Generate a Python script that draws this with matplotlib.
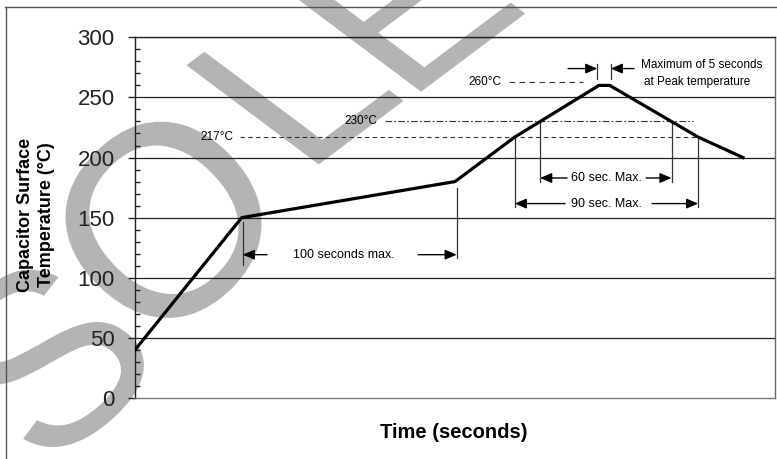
import matplotlib
matplotlib.use("Agg")
import matplotlib.pyplot as plt
from matplotlib.lines import Line2D
from matplotlib.textpath import TextPath
from matplotlib.font_manager import FontProperties
from matplotlib.patches import PathPatch
from matplotlib.transforms import Affine2D

# ---------------- data ----------------
time_s = [0, 50, 150, 178, 217.5, 222.5, 264, 285]
temp_c = [40, 150, 180, 217, 260, 260, 217, 200]
y_ticks = [0, 50, 100, 150, 200, 250, 300]
ref_levels = [217, 230, 260]
ref_labels = ["217°C", "230°C", "260°C"]
preheat_span = [50.5, 150.8]      # "100 seconds max."
above230_span = [189.9, 251.5]    # "60 sec. Max."
above217_span = [178, 264]        # "90 sec. Max."
peak_span = [216.7, 223]          # "Maximum of 5 seconds"

W, H = 777, 459
FONT = "Liberation Sans"
plt.rcParams["font.family"] = [FONT, "DejaVu Sans"]

fig = plt.figure(figsize=(W / 100, H / 100), dpi=100)
fig.patch.set_facecolor("white")

# ---------------- watermark (behind the chart) ----------------
fp = FontProperties(family=FONT)
wm = [("S", 44, 358, 0.9), ("O", 164, 220, 1.0), ("L", 295, 83, 0.75), ("E", 407, 3, 0.75)]
for ch, cx, cy, k in wm:
    tp = TextPath((0, 0), ch, size=272, prop=fp)
    ext = tp.get_extents()
    gx, gy = (ext.x0 + ext.x1) / 2, (ext.y0 + ext.y1) / 2
    tr = Affine2D().translate(-gx, -gy).rotate_deg(45).scale(1, k).translate(cx, H - cy)
    fig.add_artist(PathPatch(tp, transform=tr, facecolor="#b4b4b4", edgecolor="none", zorder=-5))

# outer frame (left and top edges)
fig.add_artist(Line2D([6 / W, 6 / W], [0, 1 - 7 / H], color="#555555", lw=1.0, zorder=-1))
fig.add_artist(Line2D([5 / W, 1], [1 - 7 / H, 1 - 7 / H], color="#555555", lw=1.0, zorder=-1))

# ---------------- axes ----------------
ax = fig.add_axes([135 / W, 1 - 398 / H, 640 / W, (398 - 37.3) / H])
ax.set_facecolor("none")
ax.set_xlim(0, 300)
ax.set_ylim(0, 300)

for y in y_ticks[1:]:
    ax.axhline(y, color="#222222", lw=0.9, zorder=1)

ax.set_xticks([])
ax.set_yticks(y_ticks)
ax.set_yticks(range(0, 301, 10), minor=True)
ax.tick_params(axis="y", which="major", direction="out", length=5.2, width=1,
               pad=9.4, labelsize=16, labelcolor="#222222", color="#222222")
ax.tick_params(axis="y", which="minor", direction="in", length=3.6, width=1, color="#222222")
for sp in ["left", "top"]:
    ax.spines[sp].set_color("#222222")
ax.spines["right"].set_color("#666666")
ax.spines["bottom"].set_color("#777777")
for sp in ax.spines.values():
    sp.set_linewidth(1)

# profile
ax.plot(time_s, temp_c, color="black", lw=2.3, solid_joinstyle="round", zorder=5)

# reference levels
ax.plot([49.2, 264], [ref_levels[0]] * 2, color="#333333", lw=0.8, ls=(0, (4, 3)), zorder=2)
ax.text(46, ref_levels[0], ref_labels[0], ha="right", va="center", fontsize=8.5)
ax.plot([117.2, 261.6], [ref_levels[1]] * 2, color="#333333", lw=0.8, ls=(0, (6, 2, 1.5, 2)), zorder=2)
ax.text(113.4, ref_levels[1], ref_labels[1], ha="right", va="center", fontsize=8.5)
ax.plot([175.3, 210], [262.5] * 2, color="#333333", lw=0.8, ls=(0, (5, 4)), zorder=2)
ax.text(172, 262.5, ref_labels[2], ha="right", va="center", fontsize=8.5)

vkw = dict(color="#333333", lw=0.9, zorder=3)
AP = dict(arrowstyle="-|>,head_length=0.7,head_width=0.3", color="black", lw=1,
          shrinkA=0, shrinkB=0, mutation_scale=10)


def arrow(x_tail, x_head, y):
    ax.annotate("", xy=(x_head, y), xytext=(x_tail, y), arrowprops=AP, zorder=4)


# 100 seconds max.
ax.plot([preheat_span[0]] * 2, [146.7, 110.8], **vkw)
ax.plot([preheat_span[1]] * 2, [175, 116.7], **vkw)
arrow(61.9, preheat_span[0], 119.2)
arrow(132.7, preheat_span[1], 119.2)
ax.text(97.7, 119.2, "100 seconds max.", ha="center", va="center", fontsize=9)

# 60 sec. Max.
ax.plot([above230_span[0]] * 2, [230, 180], **vkw)
ax.plot([above230_span[1]] * 2, [230, 180], **vkw)
arrow(202.5, above230_span[0], 183)
arrow(239.6, above230_span[1], 183)
ax.text(220.8, 183, "60 sec. Max.", ha="center", va="center", fontsize=9)

# 90 sec. Max.
ax.plot([above217_span[0]] * 2, [217, 159], **vkw)
ax.plot([above217_span[1]] * 2, [217, 159], **vkw)
arrow(201.6, above217_span[0], 161.7)
arrow(242.4, above217_span[1], 161.7)
ax.text(221, 161.7, "90 sec. Max.", ha="center", va="center", fontsize=9)

# peak time
ax.plot([peak_span[0]] * 2, [277.5, 265], **vkw)
ax.plot([peak_span[1]] * 2, [277.5, 265], **vkw)
arrow(203, peak_span[0], 274)
arrow(233.9, peak_span[1], 274)
ax.text(265.6, 276.7, "Maximum of 5 seconds", ha="center", va="center", fontsize=8.5)
ax.text(263.7, 262.5, "at Peak temperature", ha="center", va="center", fontsize=8.5)

# axis titles
fig.text(36 / W, 1 - 215 / H, "Capacitor Surface\nTemperature (°C)", rotation=90,
         ha="center", va="center", ma="center", fontsize=13, fontweight="bold",
         linespacing=1.25)
fig.text(454 / W, 1 - 433 / H, "Time (seconds)", ha="center", va="center",
         fontsize=14.5, fontweight="bold")

fig.savefig("out.png", dpi=100, facecolor="white")
